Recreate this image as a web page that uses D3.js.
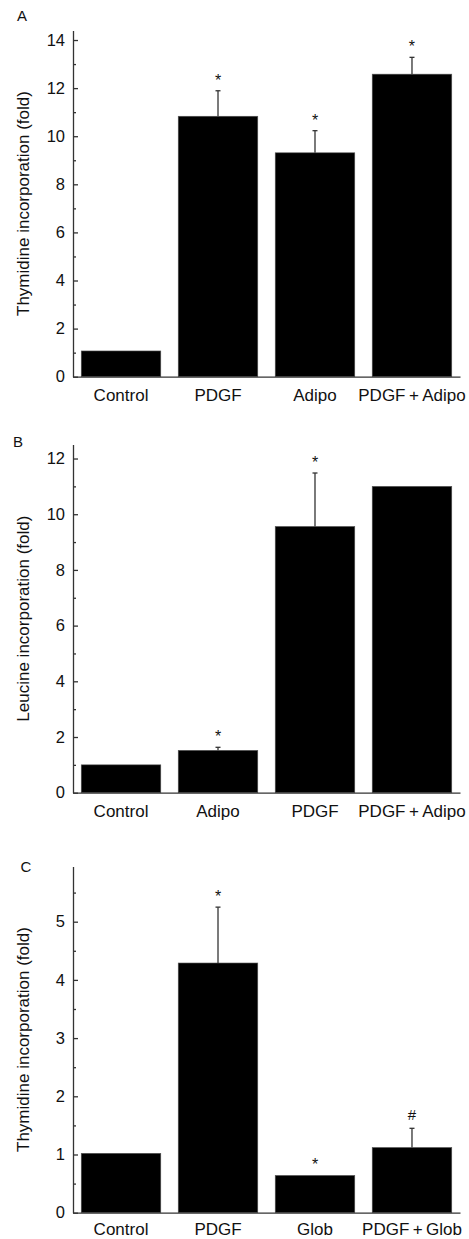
<!DOCTYPE html>
<html>
<head>
<meta charset="utf-8">
<script src="https://cdn.jsdelivr.net/npm/d3@7"></script>
<style>
  body { margin: 0; background: #fff; }
  svg text { font-family: "Liberation Sans", Arial, Helvetica, sans-serif; fill: #111; }
</style>
</head>
<body>
<div id="chart"></div>
<script>
// panel A data
const catsA = ["Control", "PDGF", "Adipo", "PDGF\u2009+\u2009Adipo"];
const valsA = [1.07, 10.83, 9.31, 12.58];
const errsA = [0, 1.06, 0.92, 0.70];
const marksA = ["", "*", "*", "*"];
const ticksA = [0, 2, 4, 6, 8, 10, 12, 14];
const minorA = [1, 3, 5, 7, 9, 11, 13];

// panel B data
const catsB = ["Control", "Adipo", "PDGF", "PDGF\u2009+\u2009Adipo"];
const valsB = [1.0, 1.52, 9.56, 11.0];
const errsB = [0, 0.11, 1.92, 0];
const marksB = ["", "*", "*", ""];
const ticksB = [0, 2, 4, 6, 8, 10, 12];
const minorB = [1, 3, 5, 7, 9, 11];

// panel C data
const catsC = ["Control", "PDGF", "Glob", "PDGF\u2009+\u2009Glob"];
const valsC = [1.02, 4.29, 0.64, 1.12];
const errsC = [0, 0.96, 0, 0.33];
const marksC = ["", "*", "*", "#"];
const ticksC = [0, 1, 2, 3, 4, 5];
const minorC = [0.5, 1.5, 2.5, 3.5, 4.5, 5.5];

const W = 469, H = 1239;
const svg = d3.select("#chart").append("svg")
  .attr("width", W)
  .attr("height", H);

// layout of each panel (pixels)
const panels = [
  { letter: "A", lx: 22, ly: 21, top: 30.4, bottom: 376.7, yMax: 14.4, pad: 12, cats: catsA, vals: valsA, errs: errsA, marks: marksA, ticks: ticksA, minor: minorA, title: "Thymidine incorporation (fold)" },
  { letter: "B", lx: 18, ly: 447, top: 444.6, bottom: 792.7, yMax: 12.5, pad: 12, cats: catsB, vals: valsB, errs: errsB, marks: marksB, ticks: ticksB, minor: minorB, title: "Leucine incorporation (fold)" },
  { letter: "C", lx: 26, ly: 872, top: 866.4, bottom: 1212.7, yMax: 5.95, pad: 10, cats: catsC, vals: valsC, errs: errsC, marks: marksC, ticks: ticksC, minor: minorC, title: "Thymidine incorporation (fold)" }
];

const axisLeftX = 73;
const axisRightX = 460;

panels.forEach(p => {
  const g = svg.append("g");

  const x = d3.scaleBand()
    .domain(p.cats)
    .range([axisLeftX, axisRightX])
    .paddingInner(0.18)
    .paddingOuter(0.085);

  const y = d3.scaleLinear()
    .domain([0, p.yMax])
    .range([p.bottom, p.top]);

  const rows = p.cats.map((c, i) => ({ cat: c, v: p.vals[i], e: p.errs[i], m: p.marks[i] }));

  // bars
  g.selectAll("rect.bar")
    .data(rows)
    .join("rect")
      .attr("class", "bar")
      .attr("x", d => x(d.cat))
      .attr("width", x.bandwidth())
      .attr("y", d => y(d.v))
      .attr("height", d => y(0) - y(d.v))
      .attr("fill", "#000")
      .attr("stroke", "#555")
      .attr("stroke-width", 0.6);

  // error bars (upper only)
  const eb = rows.filter(d => d.e > 0);
  g.selectAll("line.err")
    .data(eb)
    .join("line")
      .attr("class", "err")
      .attr("x1", d => x(d.cat) + x.bandwidth() / 2)
      .attr("x2", d => x(d.cat) + x.bandwidth() / 2)
      .attr("y1", d => y(d.v))
      .attr("y2", d => y(d.v + d.e))
      .attr("stroke", "#333")
      .attr("stroke-width", 1.3);
  g.selectAll("line.cap")
    .data(eb)
    .join("line")
      .attr("class", "cap")
      .attr("x1", d => x(d.cat) + x.bandwidth() / 2 - 2.5)
      .attr("x2", d => x(d.cat) + x.bandwidth() / 2 + 2.5)
      .attr("y1", d => y(d.v + d.e))
      .attr("y2", d => y(d.v + d.e))
      .attr("stroke", "#333")
      .attr("stroke-width", 1.3);

  // significance marks
  g.selectAll("text.mark")
    .data(rows.filter(d => d.m))
    .join("text")
      .attr("class", "mark")
      .attr("x", d => x(d.cat) + x.bandwidth() / 2)
      .attr("y", d => y(d.v + d.e) - (d.m === "#" ? 8 : 5))
      .attr("text-anchor", "middle")
      .attr("font-size", d => d.m === "#" ? 15 : 16)
      .text(d => d.m);

  // y axis, ticks pointing inward
  const yAxis = g.append("g")
    .attr("transform", "translate(" + axisLeftX + ",0)")
    .call(d3.axisLeft(y).tickValues(p.ticks).tickSizeInner(-5).tickSizeOuter(0).tickPadding(8).tickFormat(d3.format("d")));
  yAxis.selectAll("text").attr("font-size", 16.5).attr("fill", "#111");

  const yMinor = g.append("g")
    .attr("transform", "translate(" + axisLeftX + ",0)")
    .call(d3.axisLeft(y).tickValues(p.minor).tickSizeInner(-3).tickSizeOuter(0).tickFormat(""));
  yMinor.select(".domain").remove();

  // x axis
  const xAxis = g.append("g")
    .attr("transform", "translate(0," + p.bottom + ")")
    .call(d3.axisBottom(x).tickSize(0).tickPadding(p.pad));
  xAxis.selectAll("text").attr("font-size", 17).attr("fill", "#111");

  g.selectAll(".domain, .tick line")
    .attr("stroke", "#333")
    .attr("stroke-width", 1.3);

  // y title
  g.append("text")
    .attr("transform", "translate(" + 29 + "," + ((p.top + p.bottom) / 2) + ") rotate(-90)")
    .attr("text-anchor", "middle")
    .attr("font-size", 17)
    .text(p.title);

  // panel letter
  g.append("text")
    .attr("x", p.lx)
    .attr("y", p.ly)
    .attr("text-anchor", "middle")
    .attr("font-size", 15)
    .text(p.letter);
});
</script>
</body>
</html>
